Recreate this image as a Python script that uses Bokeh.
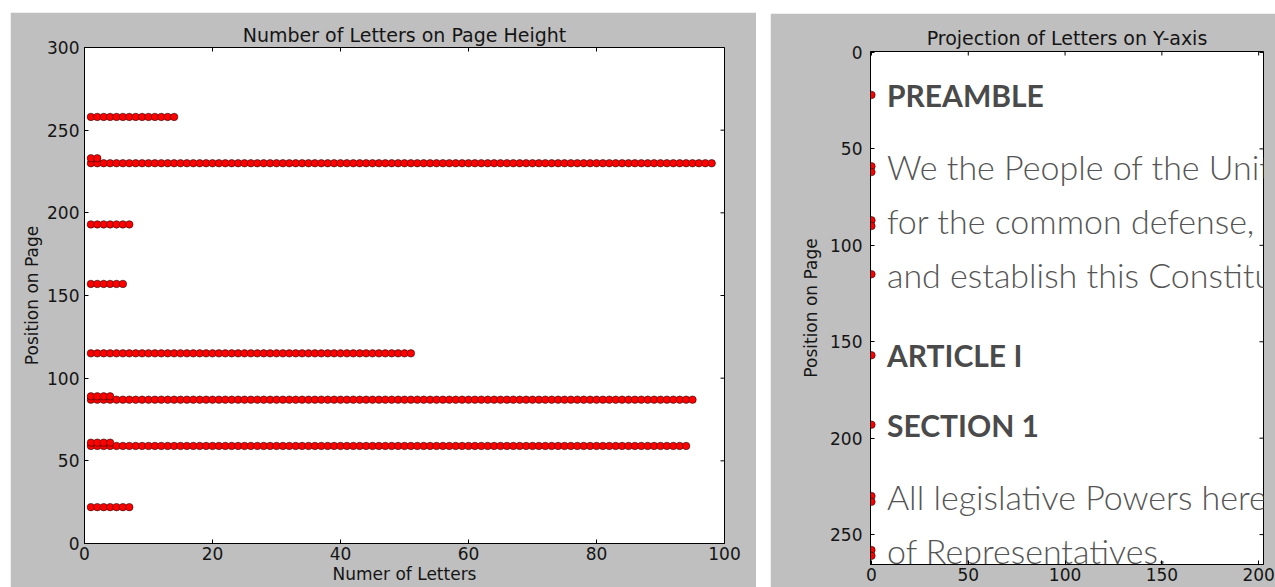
import math
from bokeh.plotting import figure
from bokeh.models import Range1d, FixedTicker, ColumnDataSource
from bokeh.layouts import row, column
from bokeh.embed import file_html
from bokeh.resources import INLINE
from bokeh.core.properties import value

# ---- data: left panel (letters found on each text row) ----
row_positions = [22, 59, 61, 87, 89, 115, 157, 193, 230, 233, 258]
letters_per_row = [7, 94, 4, 95, 4, 51, 6, 7, 98, 2, 14]

# ---- data: right panel (projection of letters on the y axis) ----
projection_y = [22, 59, 62, 87, 90, 115, 157, 193, 230, 233, 258, 261]

# ---- page text shown as the background of the right panel (visible part) ----
page_lines = [
    "PREAMBLE",
    "We the People of the Unit",
    "for the common defense,",
    "and establish this Constitu",
    "ARTICLE I",
    "SECTION 1",
    "All legislative Powers here",
    "of Representatives.",
]
page_line_y = [22, 59, 87, 115, 157, 193, 230, 258]
page_line_heading = [True, False, False, False, True, True, False, False]

x_ticks_left = [0, 20, 40, 60, 80, 100]
y_ticks_left = [0, 50, 100, 150, 200, 250, 300]
x_ticks_right = [0, 50, 100, 150, 200]
y_ticks_right = [0, 50, 100, 150, 200, 250]

GRAY = "#bfbfbf"
FONT = "DejaVu Sans"
TXT = "#151515"


def style_axis(ax, ticks):
    ax.ticker = FixedTicker(ticks=ticks)
    ax.major_tick_in = 4
    ax.major_tick_out = 0
    ax.minor_tick_in = 0
    ax.minor_tick_out = 0
    ax.major_tick_line_color = "black"
    ax.axis_line_color = "black"
    ax.major_label_text_font = FONT
    ax.major_label_text_color = TXT
    ax.major_label_text_font_size = "17px"
    ax.axis_label_text_font = FONT
    ax.axis_label_text_font_style = "normal"
    ax.axis_label_text_color = TXT
    ax.axis_label_text_font_size = "17px"


def base_style(p):
    p.background_fill_color = "white"
    p.border_fill_color = GRAY
    p.outline_line_color = "black"
    p.grid.visible = False
    p.title.align = "center"
    p.title.text_font = FONT
    p.title.text_font_style = "normal"
    p.title.text_font_size = "19px"
    p.title.text_color = TXT


def mirror_ticks(p, xticks, yticks, x_edge, y_edge):
    # inward tick marks on the top and right frame edges (outer half is clipped)
    p.scatter(x=xticks, y=[y_edge] * len(xticks), marker="dash", size=8,
              angle=math.pi / 2, line_color="black", line_width=1)
    p.scatter(x=[x_edge] * len(yticks), y=yticks, marker="dash", size=8,
              angle=0, line_color="black", line_width=1)


# ================= left panel =================
xs, ys = [], []
for yv, n in zip(row_positions, letters_per_row):
    for k in range(1, n + 1):
        xs.append(k)
        ys.append(yv)
src_left = ColumnDataSource(dict(x=xs, y=ys))

left = figure(width=746, height=575, output_backend="svg", toolbar_location=None,
              x_range=Range1d(0, 100), y_range=Range1d(0, 300),
              title="Number of Letters on Page Height",
              min_border_left=74, min_border_right=32, min_border_top=35,
              min_border_bottom=44)
left.margin = (12, 0, 0, 10)
base_style(left)
left.title.standoff = 3
left.scatter("x", "y", source=src_left, size=7.5, fill_color="red",
             line_color="black", line_width=0.5)
left.xaxis.axis_label = "Numer of Letters"
left.yaxis.axis_label = "Position on Page"
style_axis(left.xaxis[0], x_ticks_left)
style_axis(left.yaxis[0], y_ticks_left)
left.xaxis[0].major_label_standoff = 3
left.xaxis[0].axis_label_standoff = 1
left.yaxis[0].major_label_standoff = 5
left.yaxis[0].axis_label_standoff = 2
mirror_ticks(left, x_ticks_left, y_ticks_left, 100, 300)

# ================= right panel =================
right = figure(width=505, height=574, output_backend="svg", toolbar_location=None,
               x_range=Range1d(-0.5, 202.5), y_range=Range1d(265.5, -0.5),
               title="Projection of Letters on Y-axis",
               min_border_left=100, min_border_right=12, min_border_top=38,
               min_border_bottom=23)
right.margin = (13, 0, 0, 14)
base_style(right)
right.title.standoff = 6

head_src = ColumnDataSource(dict(
    x=[8] * sum(page_line_heading),
    y=[yv for yv, h in zip(page_line_y, page_line_heading) if h],
    t=[s for s, h in zip(page_lines, page_line_heading) if h]))
body_src = ColumnDataSource(dict(
    x=[8] * (len(page_lines) - sum(page_line_heading)),
    y=[yv for yv, h in zip(page_line_y, page_line_heading) if not h],
    t=[s for s, h in zip(page_lines, page_line_heading) if not h]))
right.text("x", "y", text="t", source=head_src, text_font=value("Lato"),
           text_font_style="bold", text_font_size="30px", text_color="#4a4a4a",
           text_baseline="alphabetic", text_align="left")
right.text("x", "y", text="t", source=body_src,
           text_font=value("Lato Light, Lato"),
           text_font_size="34px", text_color="#555555",
           text_baseline="alphabetic", text_align="left")

right.scatter(x=[0] * len(projection_y), y=projection_y, size=7.5, fill_color="red",
              line_color="black", line_width=0.5)
right.yaxis.axis_label = "Position on Page"
style_axis(right.xaxis[0], x_ticks_right)
style_axis(right.yaxis[0], y_ticks_right)
right.xaxis[0].major_label_standoff = 3
right.yaxis[0].major_label_standoff = 8
right.yaxis[0].axis_label_standoff = 6
mirror_ticks(right, x_ticks_right, y_ticks_right, 202.5, -0.5)

layout = row(column(left), column(right))
open("out.html", "w").write(file_html(layout, INLINE))
